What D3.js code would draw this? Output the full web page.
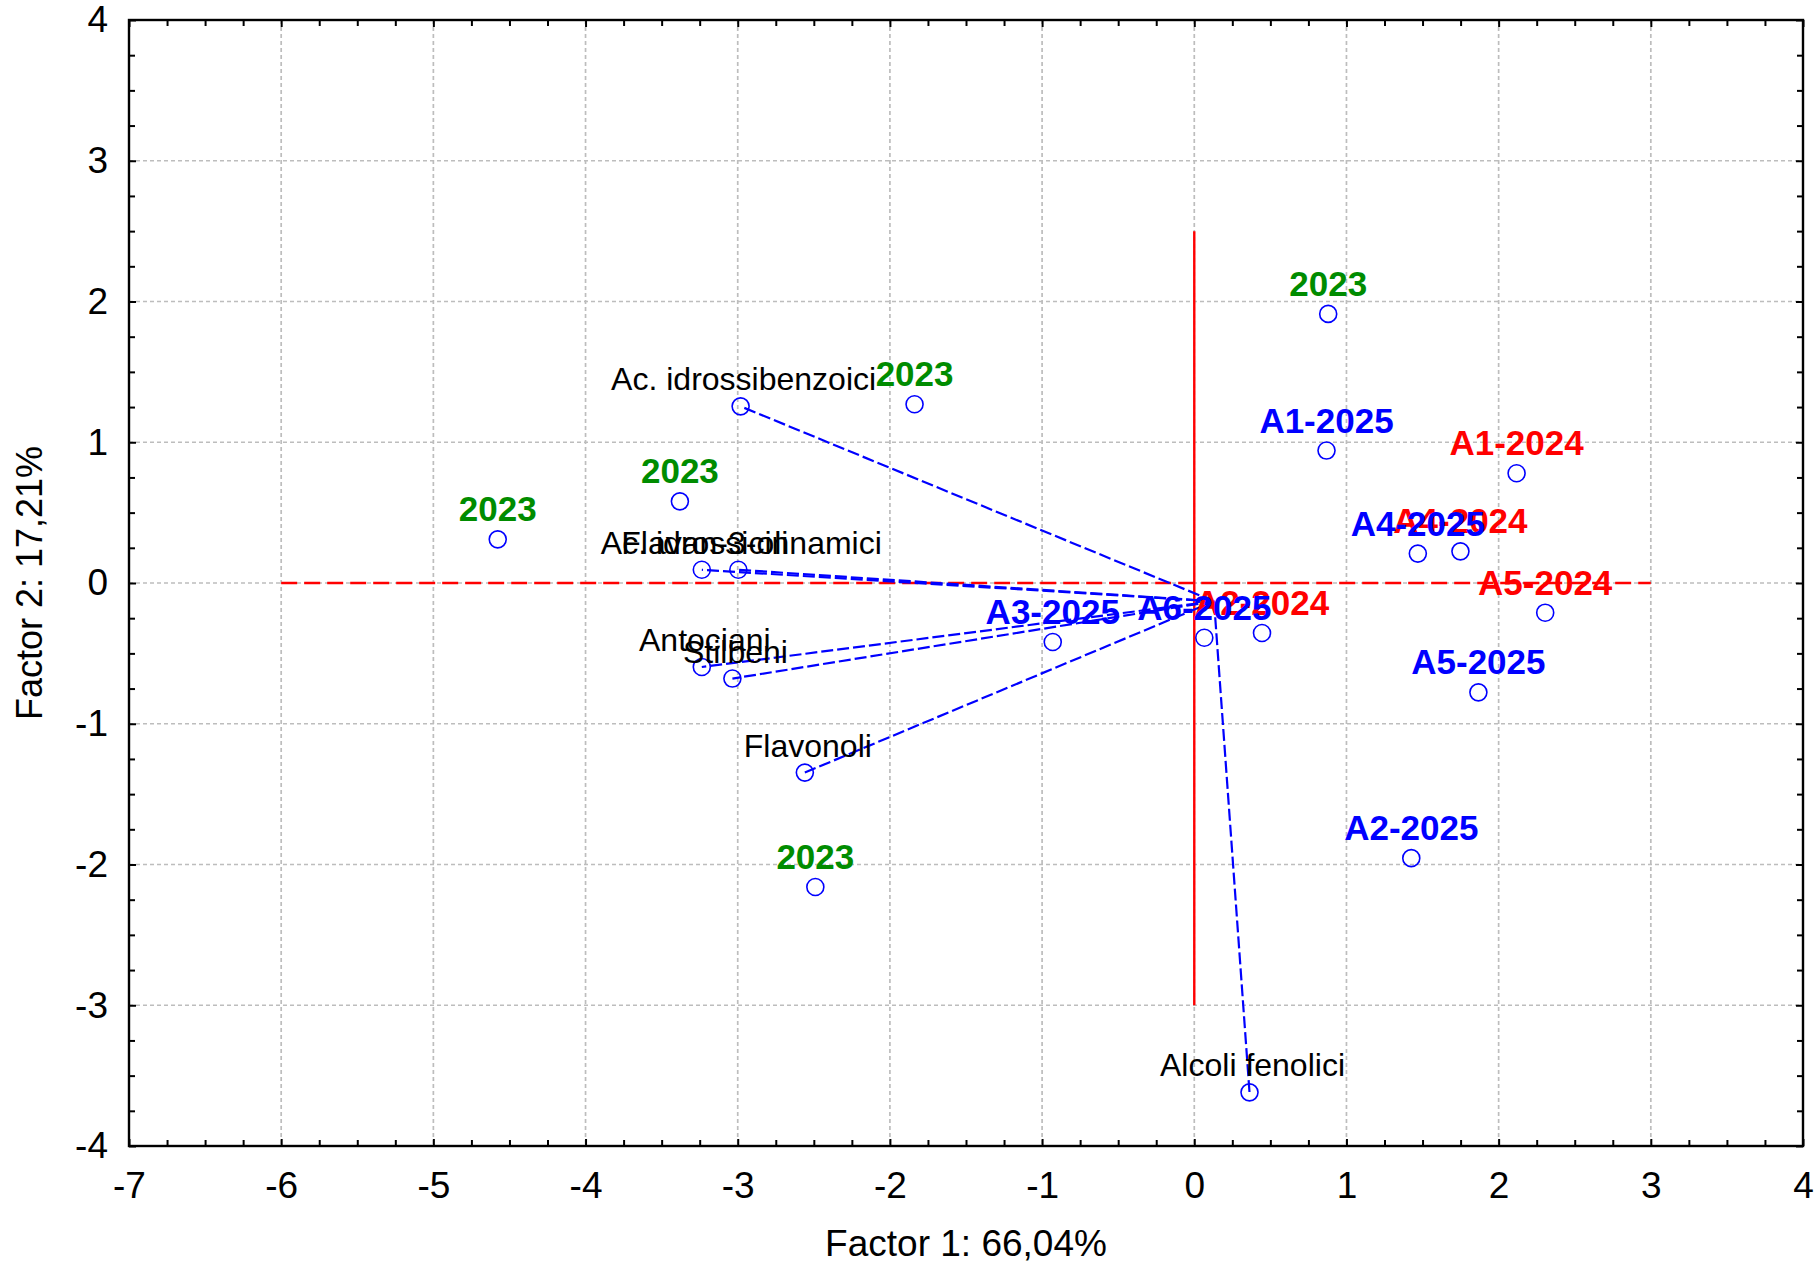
<!DOCTYPE html>
<html>
<head>
<meta charset="utf-8">
<script src="https://cdn.jsdelivr.net/npm/d3@7"></script>
<style>
  html, body { margin: 0; padding: 0; background: #fff; }
  svg { display: block; }
  text { font-family: "Liberation Sans", Arial, sans-serif; }
</style>
</head>
<body>
<svg id="chart" width="1818" height="1263"></svg>
<script>
// ---- Data ----
const caseLabels = ["2023", "2023", "2023", "2023", "2023",
  "A1-2025", "A1-2024", "A4-2025", "A4-2024", "A5-2024",
  "A5-2025", "A2-2025", "A3-2025", "A6-2025", "A2-2024"];
const caseX = [-4.577, -3.380, -1.838, 0.880, -2.490,
  0.869, 2.118, 1.469, 1.749, 2.306,
  1.867, 1.426, -0.930, 0.066, 0.445];
const caseY = [0.310, 0.580, 1.270, 1.912, -2.160,
  0.941, 0.780, 0.209, 0.225, -0.211,
  -0.777, -1.955, -0.419, -0.389, -0.355];
const caseYear = ["2023", "2023", "2023", "2023", "2023",
  "2025", "2024", "2025", "2024", "2024",
  "2025", "2025", "2025", "2025", "2024"];

const varLabels = ["Ac. idrossibenzoici", "Ac. idrossicinnamici", "Flavan-3-oli",
  "Antociani", "Stilbeni", "Flavonoli", "Alcoli fenolici"];
const varX = [-2.981, -2.996, -3.236, -3.236, -3.035, -2.559, 0.363];
const varY = [1.255, 0.094, 0.094, -0.597, -0.679, -1.347, -3.619];
const vectorOrigin = [0.13, -0.13];

const xTicks = [-7, -6, -5, -4, -3, -2, -1, 0, 1, 2, 3, 4];
const yTicks = [-4, -3, -2, -1, 0, 1, 2, 3, 4];
const xTitle = "Factor 1: 66,04%";
const yTitle = "Factor 2: 17,21%";

const refVertical = { x: 0, y1: 2.5, y2: -3 };
const refHorizontal = { y: 0, x1: -6, x2: 3 };

const yearColor = { "2023": "#008c00", "2024": "#ff0000", "2025": "#0000ff" };

// ---- Layout ----
const W = 1818, H = 1263;
const margin = { left: 129, top: 20, right: 15, bottom: 117 };
const iw = W - margin.left - margin.right;
const ih = H - margin.top - margin.bottom;

const svg = d3.select("#chart");
const g = svg.append("g").attr("transform", `translate(${margin.left},${margin.top})`);

const x = d3.scaleLinear().domain([-7, 4]).range([0, iw]);
const y = d3.scaleLinear().domain([-4, 4]).range([ih, 0]);

const minorX = d3.range(-7, 4.001, 0.25).filter(v => Math.abs(v - Math.round(v)) > 1e-6);
const minorY = d3.range(-4, 4.001, 0.25).filter(v => Math.abs(v - Math.round(v)) > 1e-6);
const fmt = d => String(d);

// Grid
const gridG = g.append("g");
gridG.selectAll("line.gx").data(xTicks.slice(1, -1)).join("line")
  .attr("x1", d => x(d)).attr("x2", d => x(d)).attr("y1", 0).attr("y2", ih)
  .attr("stroke", "#bdbdbd").attr("stroke-width", 1.7).attr("stroke-dasharray", "4,3");
gridG.selectAll("line.gy").data(yTicks.slice(1, -1)).join("line")
  .attr("y1", d => y(d)).attr("y2", d => y(d)).attr("x1", 0).attr("x2", iw)
  .attr("stroke", "#bdbdbd").attr("stroke-width", 1.7).attr("stroke-dasharray", "4,3");

// Reference red lines
g.append("line")
  .attr("x1", x(refVertical.x)).attr("x2", x(refVertical.x))
  .attr("y1", y(refVertical.y1)).attr("y2", y(refVertical.y2))
  .attr("stroke", "#ff0000").attr("stroke-width", 2.4);
g.append("line")
  .attr("x1", x(refHorizontal.x1)).attr("x2", x(refHorizontal.x2))
  .attr("y1", y(refHorizontal.y)).attr("y2", y(refHorizontal.y))
  .attr("stroke", "#ff0000").attr("stroke-width", 2.4).attr("stroke-dasharray", "16,7");

// Axes (ticks inward on all sides)
function styleAxis(sel) {
  sel.select(".domain").remove();
  sel.selectAll(".tick line").attr("stroke", "#000").attr("stroke-width", 2);
  sel.selectAll(".tick text").attr("fill", "#000").style("font-size", "37px")
    .style("font-family", '"Liberation Sans", Arial, sans-serif');
}
g.append("g").attr("transform", `translate(0,${ih})`)
  .call(d3.axisBottom(x).tickValues(xTicks).tickSize(-7).tickPadding(26).tickFormat(fmt))
  .call(styleAxis);
g.append("g").attr("transform", `translate(0,${ih})`)
  .call(d3.axisBottom(x).tickValues(minorX).tickSize(-6).tickFormat(""))
  .call(styleAxis);
g.append("g")
  .call(d3.axisTop(x).tickValues(xTicks).tickSize(-7).tickFormat(""))
  .call(styleAxis);
g.append("g")
  .call(d3.axisTop(x).tickValues(minorX).tickSize(-6).tickFormat(""))
  .call(styleAxis);
g.append("g")
  .call(d3.axisLeft(y).tickValues(yTicks).tickSize(-7).tickPadding(21).tickFormat(fmt))
  .call(styleAxis);
g.append("g")
  .call(d3.axisLeft(y).tickValues(minorY).tickSize(-6).tickFormat(""))
  .call(styleAxis);
g.append("g").attr("transform", `translate(${iw},0)`)
  .call(d3.axisRight(y).tickValues(yTicks).tickSize(-7).tickFormat(""))
  .call(styleAxis);
g.append("g").attr("transform", `translate(${iw},0)`)
  .call(d3.axisRight(y).tickValues(minorY).tickSize(-6).tickFormat(""))
  .call(styleAxis);

// Frame
g.append("rect").attr("x", 0).attr("y", 0).attr("width", iw).attr("height", ih)
  .attr("fill", "none").attr("stroke", "#000").attr("stroke-width", 2.4);

// Variable vectors
const vars = varLabels.map((name, i) => ({ name, x: varX[i], y: varY[i] }));
g.append("g").selectAll("line").data(vars).join("line")
  .attr("x1", x(vectorOrigin[0])).attr("y1", y(vectorOrigin[1]))
  .attr("x2", d => x(d.x)).attr("y2", d => y(d.y))
  .attr("stroke", "#0000ff").attr("stroke-width", 2.2).attr("stroke-dasharray", "12,4");

// Variable points
g.append("g").selectAll("circle").data(vars).join("circle")
  .attr("cx", d => x(d.x)).attr("cy", d => y(d.y)).attr("r", 8.5)
  .attr("fill", "none").attr("stroke", "#0000ff").attr("stroke-width", 1.6);

// Variable labels
g.append("g").selectAll("text").data(vars).join("text")
  .attr("x", d => x(d.x) + 3).attr("y", d => y(d.y) - 16)
  .attr("text-anchor", "middle").attr("fill", "#000")
  .style("font-size", "32px")
  .text(d => d.name);

// Case points
const cases = caseLabels.map((name, i) => ({ name, x: caseX[i], y: caseY[i], year: caseYear[i] }));
g.append("g").selectAll("circle").data(cases).join("circle")
  .attr("cx", d => x(d.x)).attr("cy", d => y(d.y)).attr("r", 8.5)
  .attr("fill", "none").attr("stroke", "#0000ff").attr("stroke-width", 1.6);

// Case labels (red first, then green, then blue on top)
const order = { "2024": 0, "2023": 1, "2025": 2 };
const sortedCases = cases.slice().sort((a, b) => order[a.year] - order[b.year]);
g.append("g").selectAll("text").data(sortedCases).join("text")
  .attr("x", d => x(d.x)).attr("y", d => y(d.y) - 18)
  .attr("text-anchor", "middle")
  .attr("fill", d => yearColor[d.year])
  .style("font-size", "35px").style("font-weight", "bold")
  .text(d => d.name);

// Axis titles
svg.append("text")
  .attr("x", margin.left + iw / 2).attr("y", 1256)
  .attr("text-anchor", "middle").attr("fill", "#000")
  .style("font-size", "37px")
  .text(xTitle);
svg.append("text")
  .attr("transform", `translate(42,${margin.top + ih / 2}) rotate(-90)`)
  .attr("text-anchor", "middle").attr("fill", "#000")
  .style("font-size", "36px")
  .text(yTitle);
</script>
</body>
</html>
